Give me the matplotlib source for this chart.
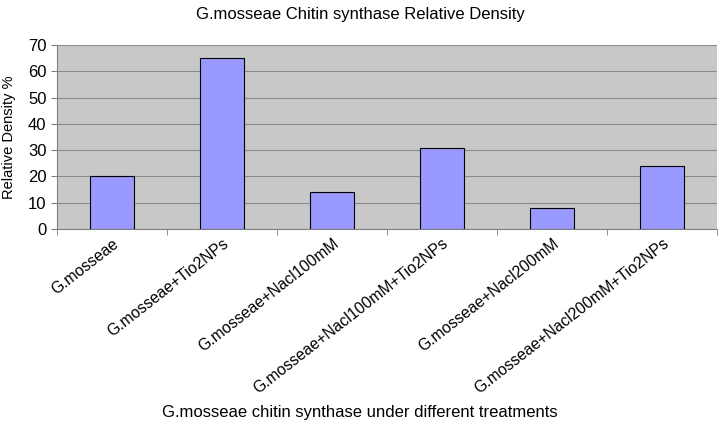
import matplotlib
matplotlib.use("Agg")
import matplotlib.pyplot as plt
import numpy as np

categories = ["G.mosseae", "G.mosseae+Tio2NPs", "G.mosseae+Nacl100mM",
              "G.mosseae+Nacl100mM+Tio2NPs", "G.mosseae+Nacl200mM",
              "G.mosseae+Nacl200mM+Tio2NPs"]
values = [20, 65, 14, 31, 8, 24]
yticks = [0, 10, 20, 30, 40, 50, 60, 70]

plt.rcParams['font.family'] = ['Liberation Sans', 'DejaVu Sans']

fig = plt.figure(figsize=(7.2, 4.25), dpi=100)
ax = fig.add_axes([57/720, 1-229/425, 660/720, 184/425])
ax.set_facecolor('#c8c8c8')
x = np.arange(len(categories))
ax.bar(x, values, width=0.4, color='#9999ff', edgecolor='black', linewidth=0.8, zorder=3)
ax.set_xlim(-0.5, len(categories)-0.5)
ax.set_ylim(0, 70)
ax.set_yticks(yticks)
ax.yaxis.grid(True, color='#8c8c8c', linewidth=0.8, zorder=0)
ax.set_xticks(x)
ax.set_xticklabels(categories, rotation=38, ha='right', rotation_mode='anchor', fontsize=11.3)
ax.tick_params(axis='x', length=0, pad=5)
ax.set_xticks(np.arange(len(categories)+1)-0.5, minor=True)
ax.tick_params(axis='x', which='minor', length=4, color='#808080')
ax.tick_params(axis='y', length=4, color='#808080', labelsize=12)
for s in ['top', 'right']:
    ax.spines[s].set_visible(False)
for s in ['left', 'bottom']:
    ax.spines[s].set_color('#808080')
ax.set_ylabel("Relative Density %", fontsize=10.5)
ax.yaxis.set_label_coords(-0.062, 0.5)
fig.text(0.5, 1-14/425, "G.mosseae Chitin synthase Relative Density", ha='center', va='center', fontsize=12)
fig.text(0.5, 1-412/425, "G.mosseae chitin synthase under different treatments", ha='center', va='center', fontsize=12)
fig.savefig("out.png", dpi=100)
